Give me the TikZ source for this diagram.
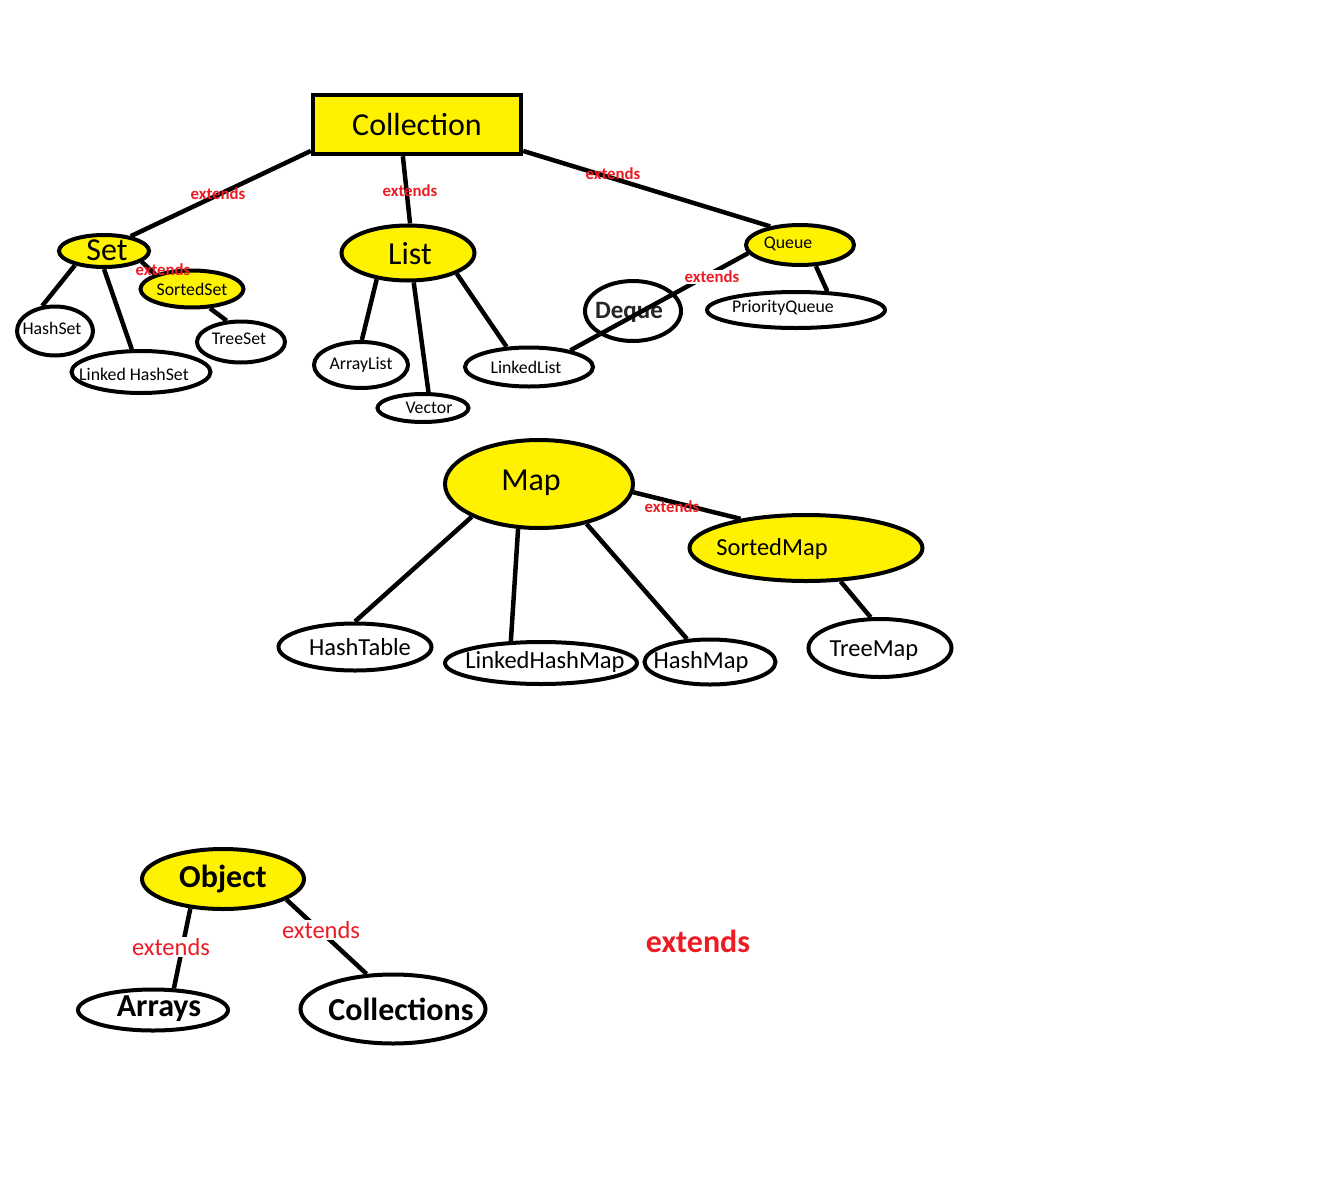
\documentclass[tikz,border=0pt]{standalone}
\usepackage{fontspec}
\setmainfont{Carlito}
\usetikzlibrary{shapes.geometric}
\definecolor{pyellow}{HTML}{FFF200}
\definecolor{pred}{HTML}{ED1C24}
\begin{document}
\begin{tikzpicture}[x=1pt,y=-1pt,
  ell/.style={ellipse, draw=black, line width=4pt, inner sep=0pt, fill=white},
  yel/.style={ell, fill=pyellow},
  conn/.style={line width=4.5pt},
  fsm/.style={font=\fontsize{17.8}{20}\selectfont},
  fmd/.style={font=\fontsize{24.5}{28}\selectfont},
  flg/.style={font=\fontsize{32}{36}\selectfont},
  fbl/.style={font=\bfseries\fontsize{32}{36}\selectfont},
  ext/.style={text=pred, font=\bfseries\fontsize{16.8}{18}\selectfont, inner sep=0pt},
  extgap/.style={text=pred, font=\fontsize{24.5}{28}\selectfont, fill=white, inner sep=1pt},
]
\useasboundingbox[fill=white] (0,0) rectangle (1325,1191);

% ---------- Collection hierarchy ----------
\node[draw=black, line width=4.5pt, fill=pyellow, minimum width=208pt, minimum height=59pt,
      inner sep=0pt, flg] (collection) at (417,124.5) {Collection};

\node[yel, minimum width=90pt, minimum height=32pt,
      label={[flg, xshift=3pt, yshift=1pt]center:Set}] (set) at (104,251) {};
\node[yel, minimum width=103pt, minimum height=37pt, fsm] (sortedset) at (192,289) {SortedSet};
\node[ell, minimum width=76pt, minimum height=49pt,
      label={[fsm, xshift=-3pt, yshift=3pt]center:HashSet}] (hashset) at (55,331) {};
\node[ell, minimum width=139pt, minimum height=42pt,
      label={[fsm, xshift=-7pt, yshift=-2pt]center:Linked HashSet}] (linkedhashset) at (141,372) {};
\node[ell, minimum width=88pt, minimum height=41pt,
      label={[fsm, xshift=-2pt, yshift=3pt]center:TreeSet}] (treeset) at (241,342) {};

\node[yel, minimum width=133pt, minimum height=55pt,
      label={[flg, xshift=2pt, yshift=-1pt]center:List}] (list) at (408,253) {};
\node[ell, minimum width=94pt, minimum height=46pt, fsm] (arraylist) at (361,365) {ArrayList};
\node[ell, minimum width=91pt, minimum height=28pt,
      label={[fsm, xshift=6pt]center:Vector}] (vector) at (423,408) {};
\node[ell, minimum width=128pt, minimum height=39pt,
      label={[fsm, xshift=-3pt]center:LinkedList}] (linkedlist) at (529,367) {};
\node[ell, minimum width=96pt, minimum height=60pt,
      label={[text=black!85, font=\bfseries\fontsize{25}{28}\selectfont, xshift=-4pt, yshift=-1pt]center:Deque}] (deque) at (633,311) {};

\node[yel, minimum width=108pt, minimum height=40pt,
      label={[fsm, xshift=-12pt, yshift=1pt]center:Queue}] (queue) at (800,245) {};
\node[ell, minimum width=178pt, minimum height=36pt,
      label={[fsm, xshift=-13pt, yshift=2pt]center:PriorityQueue}] (priorityqueue) at (796,310) {};

% ---------- Map hierarchy ----------
\node[yel, minimum width=188pt, minimum height=88pt,
      label={[flg, xshift=-8pt, yshift=1pt]center:Map}] (map) at (539,484) {};
\node[yel, minimum width=233pt, minimum height=66pt,
      label={[fmd, xshift=-34pt, yshift=-1pt]center:SortedMap}] (sortedmap) at (806,548) {};
\node[ell, minimum width=153pt, minimum height=47pt,
      label={[fmd, xshift=5pt]center:HashTable}] (hashtable) at (355,647) {};
\node[ell, minimum width=192pt, minimum height=42pt,
      label={[fmd, xshift=4pt, yshift=1pt]center:LinkedHashMap}] (linkedhashmap) at (541,663) {};
\node[ell, minimum width=131pt, minimum height=45pt,
      label={[fmd, xshift=-9pt]center:HashMap}] (hashmap) at (710,662) {};
\node[ell, minimum width=143pt, minimum height=58pt,
      label={[fmd, xshift=-6pt, yshift=-3pt]center:TreeMap}] (treemap) at (880,648) {};

% ---------- Object hierarchy ----------
\node[yel, minimum width=162pt, minimum height=60pt, fbl] (object) at (223,879) {Object};
\node[ell, minimum width=150pt, minimum height=41pt,
      label={[fbl, xshift=6pt, yshift=1pt]center:Arrays}] (arrays) at (153,1010) {};
\node[ell, minimum width=185pt, minimum height=69pt,
      label={[fbl, xshift=8pt]center:Collections}] (collections) at (393,1009) {};

% ---------- connectors ----------
\draw[conn] (collection.194) -- (set.29);
\draw[conn] (collection.246) -- (list.86);
\draw[conn] (collection.346) -- (queue.148);
\draw[conn] (set.206) -- (hashset.117);
\draw[conn] (set.270) -- (linkedhashset.112);
\draw[conn] (set.344) -- (sortedset.158);
\draw[conn] (sortedset.313) -- (treeset.124);
\draw[conn] (list.220) -- (arraylist.88);
\draw[conn] (list.281) -- (vector.71);
\draw[conn] (list.337) -- (linkedlist.138);
\draw[conn] (linkedlist.22) -- (queue.189);
\draw[conn] (queue.307) -- (priorityqueue.31);
\draw[conn] (map.355) -- (sortedmap.156);
\draw[conn] (map.206) -- (hashtable.90);
\draw[conn] (map.245) -- (linkedhashmap.144);
\draw[conn] (map.320) -- (hashmap.135);
\draw[conn] (sortedmap.316) -- (treemap.107);
\draw[conn] (object.222) -- (arrays.46);
\draw[conn] (object.342) -- (collections.127);

% ---------- labels ----------
\node[ext] (e1) at (218,194) {extends};
\node[ext] (e2) at (410,191) {extends};
\node[ext] (e3) at (613,174) {extends};
\node[ext] (e4) at (163,270) {extends};
\node[ext, fill=white, inner sep=1pt] (e5) at (712,277) {extends};
\node[ext] (e6) at (672,507) {extends};
\node[extgap] (e7) at (171,947) {extends};
\node[extgap] (e8) at (321,930) {extends};
\node[text=pred, fbl] (e9) at (698,941) {extends};
\end{tikzpicture}
\end{document}
